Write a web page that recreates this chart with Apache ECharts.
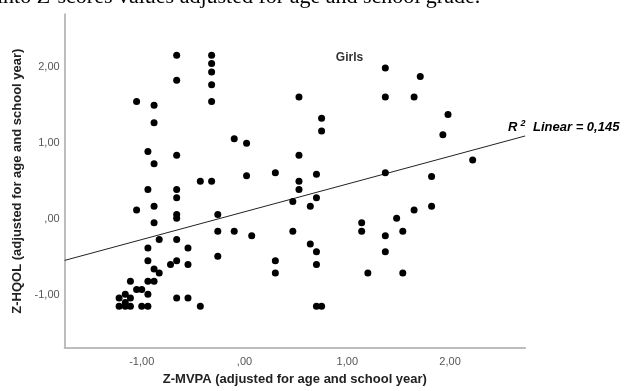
<!DOCTYPE html>
<html>
<head>
<meta charset="utf-8">
<script src="https://cdn.jsdelivr.net/npm/echarts@6/dist/echarts.min.js"></script>
<style>
html,body{margin:0;padding:0;background:#fff;}
#chart{width:625px;height:391px;}
</style>
</head>
<body>
<div id="chart"></div>
<script>
// Z-MVPA (x) and Z-HQOL (y) for each girl
const mvpa = [
  -0.66,-0.32,-0.32,-0.32,-0.66,-0.32,-1.05,-0.88,-0.32,-0.88,-0.10,0.02,-0.94,-0.66,-0.88,
  0.02,-0.43,-0.32,-0.94,-0.66,-0.66,-0.88,-1.05,-0.66,-0.66,-0.26,-0.88,-0.26,-0.10,0.07,
  -0.83,-0.66,-0.94,-0.55,-0.26,-0.94,-0.66,-0.72,-0.55,-0.88,-0.83,-1.11,-0.94,-0.88,-1.05,
  -1.00,-0.94,-1.16,-1.22,-1.11,-1.16,-1.22,-1.16,-1.11,-1.00,-0.94,-0.66,-0.55,-0.43,
  0.30,0.70,1.37,1.82,0.53,0.53,0.47,0.70,0.64,1.82,1.65,1.48,1.14,1.14,1.54,1.37,0.47,0.64,0.70,1.37,0.30,0.70,0.30,1.20,1.54,0.70,0.75,
  1.37,1.71,0.53,1.37,1.65,1.98,0.75,0.75,1.93,0.53,
  2.22
];
const hqol = [
  2.16,2.16,2.05,1.94,1.83,1.77,1.55,1.50,1.55,1.27,1.06,1.00,0.89,0.84,0.73,
  0.57,0.50,0.50,0.39,0.39,0.28,0.17,0.12,0.06,0.01,0.06,-0.05,-0.16,-0.16,-0.22,
  -0.27,-0.27,-0.38,-0.38,-0.49,-0.55,-0.55,-0.60,-0.60,-0.66,-0.71,-0.82,-0.82,-0.82,-0.93,
  -0.93,-0.99,-0.99,-1.04,-1.04,-1.10,-1.15,-1.15,-1.15,-1.15,-1.15,-1.04,-1.04,-1.15,
  0.61,0.59,0.61,0.56,0.50,0.39,0.23,0.28,0.17,0.17,0.12,0.01,-0.05,-0.16,-0.16,-0.22,-0.16,-0.33,-0.43,-0.43,-0.55,-0.60,-0.71,-0.71,-0.71,-1.15,-1.15,
  1.99,1.88,1.61,1.61,1.61,1.38,1.33,1.16,1.11,0.84,
  0.78
];
// fitted linear regression line, endpoints at axis extent
const fitX = [-1.75, 2.73];
const fitY = [-0.545, 1.095];

const xTickValues = [-1, 0, 1, 2];
const xTickLabels = ['-1,00', ',00', '1,00', '2,00'];
const yTickValues = [-1, 0, 1, 2];
const yTickLabels = ['-1,00', ',00', '1,00', '2,00'];

const xRange = [-1.75, 2.73];
const yRange = [-1.70, 2.70];

const xTitle = 'Z-MVPA (adjusted for age and school year)';
const yTitle = 'Z-HQOL (adjusted for age and school year)';
const groupLabel = 'Girls';
const r2Text = '0,145';
const topText = 'into Z-scores values adjusted for age and school grade.';

const points = mvpa.map((x, i) => [x, hqol[i]]);
const fitData = fitX.map((x, i) => [x, fitY[i]]);

const chart = echarts.init(document.getElementById('chart'), null, {renderer: 'canvas'});
const font = '"Liberation Sans", Arial, sans-serif';

function fmt(values, labels) {
  return v => {
    const i = values.findIndex(t => Math.abs(t - v) < 1e-9);
    return i >= 0 ? labels[i] : '';
  };
}

chart.setOption({
  animation: false,
  backgroundColor: '#ffffff',
  grid: {left: 64.65, right: 99.9, top: 14.25, bottom: 40.15, containLabel: false},
  xAxis: {
    type: 'value',
    min: xRange[0], max: xRange[1],
    name: xTitle,
    nameLocation: 'middle',
    nameGap: 25,
    nameTextStyle: {fontFamily: font, fontSize: 13, fontWeight: 'bold', color: '#222'},
    axisLine: {show: true, onZero: false, lineStyle: {color: '#bdbdbd', width: 2}},
    axisTick: {show: false},
    splitLine: {show: false},
    axisLabel: {
      customValues: xTickValues,
      formatter: fmt(xTickValues, xTickLabels),
      fontFamily: font, fontSize: 11, color: '#555', margin: 8
    }
  },
  yAxis: {
    type: 'value',
    min: yRange[0], max: yRange[1],
    name: yTitle,
    nameLocation: 'middle',
    nameGap: 41,
    nameTextStyle: {fontFamily: font, fontSize: 13, fontWeight: 'bold', color: '#222'},
    axisLine: {show: true, onZero: false, lineStyle: {color: '#bdbdbd', width: 2}},
    axisTick: {show: false},
    splitLine: {show: false},
    axisLabel: {
      customValues: yTickValues,
      formatter: fmt(yTickValues, yTickLabels),
      fontFamily: font, fontSize: 11, color: '#555', margin: 5
    }
  },
  series: [
    {
      type: 'scatter',
      data: points,
      symbol: 'circle',
      symbolSize: 7,
      itemStyle: {color: '#000', opacity: 1},
      z: 3
    },
    {
      type: 'line',
      data: fitData,
      showSymbol: false,
      symbol: 'none',
      lineStyle: {color: '#222', width: 1},
      z: 2
    }
  ],
  graphic: [
    {
      type: 'text', left: -3, top: -14,
      style: {text: topText, font: '22px "Liberation Serif", "Times New Roman", serif', fill: '#000'}
    },
    {
      type: 'text', x: 349.5, y: 58,
      style: {text: groupLabel, font: 'bold 12px ' + font, fill: '#333', align: 'center', verticalAlign: 'middle'}
    },
    {
      type: 'text', x: 508, y: 127,
      style: {
        text: '{r|R}{s|2}{t| Linear = ' + r2Text + '}',
        verticalAlign: 'middle', align: 'left',
        rich: {
          r: {font: 'italic bold 13px ' + font, fill: '#000'},
          s: {font: 'italic bold 9px ' + font, fill: '#000', verticalAlign: 'top', padding: [0, 4, 6, 3]},
          t: {font: 'italic bold 13px ' + font, fill: '#000'}
        }
      }
    }
  ]
});
</script>
</body>
</html>
